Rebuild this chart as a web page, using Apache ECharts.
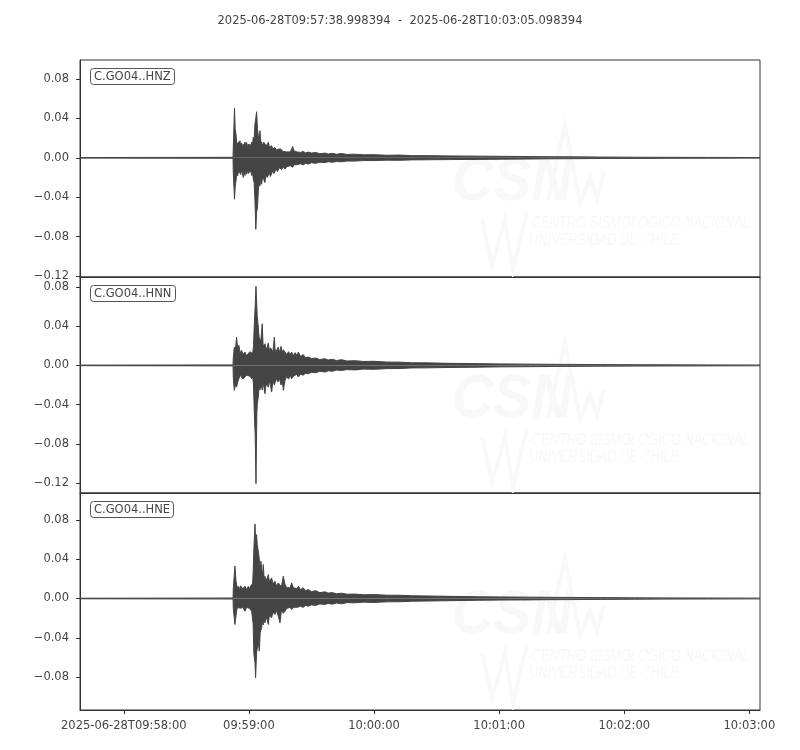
<!DOCTYPE html>
<html>
<head>
<meta charset="utf-8">
<title>GO04 waveform</title>
<script src="https://cdn.jsdelivr.net/npm/echarts@6/dist/echarts.min.js"></script>
<style>
  html, body { margin: 0; padding: 0; background: #fff; }
  #main { width: 800px; height: 750px; }
</style>
</head>
<body>
<div id="main"></div>
<script>
// time in seconds relative to 2025-06-28T09:58:00
const titleText = '2025-06-28T09:57:38.998394  -  2025-06-28T10:03:05.098394';
const tStart = -21.001606;
const tEnd = 305.098394;

const xTickValues = [0, 60, 120, 180, 240, 300];
const xTickLabels = ['2025-06-28T09:58:00', '09:59:00', '10:00:00', '10:01:00', '10:02:00', '10:03:00'];
const yTickValues = [-0.12, -0.08, -0.04, 0, 0.04, 0.08];

const channels = ['C.GO04..HNZ', 'C.GO04..HNN', 'C.GO04..HNE'];
const yMin = [-0.121, -0.1302, -0.1136];
const yMax = [0.0993, 0.0902, 0.1075];

// HNZ envelope (max / min per time bin)
const timeZ = [-21, 52.4, 52.5, 53.1, 53.4, 53.8, 54.2, 54.6, 55.1, 55.7, 56.1, 56.5, 56.9, 57.3, 57.7, 58.1, 58.5, 58.9, 59.3, 59.7, 60.1, 60.5, 60.9, 61.3, 61.7, 62.1, 62.5, 62.9, 63.3, 63.7, 64.1, 64.5, 64.9, 65.3, 65.7, 66.1, 66.6, 67.1, 67.7, 68.2, 68.8, 69.3, 69.8, 70.3, 70.9, 71.5, 72.0, 72.5, 73.1, 73.6, 74.1, 74.7, 75.2, 75.7, 76.4, 77.3, 78.1, 79, 79.8, 80.5, 81.0, 81.6, 82.2, 83.0, 83.7, 84.8, 86, 87.2, 88.5, 90, 92, 94, 96.5, 98, 100, 102, 104.5, 107, 110.9, 115, 120, 126, 132.5, 138, 145, 156.5, 170, 180.5, 195, 204.5, 215, 228.5, 245, 260, 280, 305.1];
const upperZ = [0.0003, 0.0005, 0.010, 0.0506, 0.030, 0.024, 0.014, 0.0156, 0.012, 0.0173, 0.012, 0.015, 0.011, 0.0139, 0.011, 0.016, 0.012, 0.0156, 0.011, 0.014, 0.010, 0.0139, 0.011, 0.016, 0.013, 0.0207, 0.018, 0.0343, 0.040, 0.0468, 0.030, 0.0224, 0.018, 0.0275, 0.017, 0.0173, 0.013, 0.016, 0.0156, 0.012, 0.014, 0.0156, 0.011, 0.013, 0.0122, 0.009, 0.011, 0.0105, 0.008, 0.0095, 0.0088, 0.007, 0.009, 0.0085, 0.0065, 0.0078, 0.006, 0.008, 0.006, 0.0088, 0.0115, 0.007, 0.008, 0.006, 0.0071, 0.0055, 0.0065, 0.005, 0.0058, 0.0048, 0.0055, 0.0042, 0.0048, 0.0038, 0.0046, 0.0036, 0.0044, 0.0034, 0.0037, 0.0030, 0.0032, 0.0026, 0.0028, 0.0022, 0.0022, 0.0019, 0.0017, 0.0015, 0.0013, 0.0011, 0.001, 0.0008, 0.0006, 0.0005, 0.0004, 0.0003];
const lowerZ = [-0.0003, -0.0005, -0.015, -0.042, -0.030, -0.0234, -0.016, -0.0183, -0.013, -0.0149, -0.017, -0.012, -0.016, -0.0200, -0.013, -0.018, -0.012, -0.0166, -0.013, -0.016, -0.012, -0.0149, -0.012, -0.018, -0.014, -0.0217, -0.025, -0.0438, -0.0726, -0.055, -0.0506, -0.0336, -0.025, -0.0285, -0.021, -0.0268, -0.019, -0.022, -0.0251, -0.017, -0.020, -0.0200, -0.015, -0.019, -0.0183, -0.013, -0.016, -0.0149, -0.011, -0.014, -0.0132, -0.010, -0.012, -0.012, -0.009, -0.0115, -0.009, -0.011, -0.008, -0.0098, -0.0095, -0.007, -0.009, -0.007, -0.0081, -0.006, -0.0072, -0.0055, -0.0064, -0.005, -0.0056, -0.0045, -0.0048, -0.004, -0.0045, -0.0038, -0.0040, -0.0033, -0.0033, -0.0028, -0.0028, -0.0024, -0.0025, -0.0021, -0.002, -0.0018, -0.0016, -0.0014, -0.0012, -0.001, -0.0009, -0.0007, -0.0006, -0.0005, -0.0004, -0.0003];

// HNN
const timeN = [-21, 52.4, 52.5, 53.0, 53.5, 54.1, 54.6, 55.2, 55.8, 56.5, 57.2, 58.1, 58.8, 59.7, 60.5, 61.3, 61.8, 62.2, 62.6, 63.0, 63.4, 63.8, 64.0, 64.5, 64.9, 65.3, 65.7, 66.1, 66.4, 66.8, 67.2, 67.7, 68.2, 68.8, 69.3, 69.8, 70.3, 70.9, 71.5, 72.2, 72.5, 73.0, 73.5, 74.1, 74.7, 75.4, 76.0, 76.5, 77.3, 78.2, 79, 79.8, 80.5, 81.3, 82.2, 83.0, 83.7, 84.8, 86, 87.2, 88.5, 90, 92, 94, 96.5, 98, 100, 102, 104.5, 107, 110.9, 115, 120, 126, 132.5, 138, 145, 156.5, 170, 180.5, 195, 204.5, 215, 228.5, 245, 260, 280, 305.1];
const upperN = [0.0003, 0.0005, 0.008, 0.0187, 0.015, 0.0289, 0.0170, 0.0204, 0.013, 0.0153, 0.011, 0.0136, 0.010, 0.0119, 0.014, 0.0136, 0.012, 0.020, 0.0425, 0.060, 0.0806, 0.0595, 0.050, 0.0391, 0.028, 0.030, 0.025, 0.035, 0.0425, 0.020, 0.018, 0.0221, 0.016, 0.019, 0.0228, 0.015, 0.018, 0.020, 0.014, 0.0289, 0.0170, 0.014, 0.016, 0.0187, 0.013, 0.0194, 0.013, 0.016, 0.0153, 0.011, 0.014, 0.011, 0.0136, 0.010, 0.013, 0.010, 0.0136, 0.009, 0.011, 0.008, 0.0085, 0.007, 0.0075, 0.006, 0.0068, 0.0055, 0.0062, 0.005, 0.0058, 0.0045, 0.0048, 0.0040, 0.0042, 0.0034, 0.0033, 0.0027, 0.0026, 0.0021, 0.0018, 0.0015, 0.0013, 0.0011, 0.001, 0.0008, 0.0007, 0.0006, 0.0005, 0.0004];
const lowerN = [-0.0003, -0.0005, -0.012, -0.0255, -0.020, -0.0221, -0.0170, -0.0153, -0.010, -0.0119, -0.014, -0.0136, -0.010, -0.0119, -0.011, -0.0136, -0.011, -0.020, -0.0490, -0.070, -0.1207, -0.0493, -0.040, -0.0323, -0.022, -0.025, -0.020, -0.0221, -0.025, -0.018, -0.022, -0.0289, -0.019, -0.017, -0.0221, -0.016, -0.020, -0.0272, -0.016, -0.020, -0.0187, -0.014, -0.016, -0.0170, -0.013, -0.020, -0.015, -0.0255, -0.0153, -0.011, -0.014, -0.010, -0.0136, -0.011, -0.012, -0.009, -0.0119, -0.009, -0.010, -0.008, -0.0085, -0.007, -0.0075, -0.006, -0.0068, -0.0055, -0.006, -0.0048, -0.0051, -0.0043, -0.0046, -0.0038, -0.0040, -0.0033, -0.0032, -0.0026, -0.0025, -0.0021, -0.0018, -0.0015, -0.0013, -0.0011, -0.001, -0.0008, -0.0007, -0.0006, -0.0005, -0.0004];

// HNE
const timeE = [-21, 52.4, 52.5, 53.3, 53.8, 54.1, 54.5, 54.9, 55.4, 56.0, 56.5, 57.0, 57.6, 58.1, 58.4, 58.9, 59.7, 60.2, 60.8, 61.3, 61.7, 62.0, 62.4, 62.9, 63.2, 63.7, 64.0, 64.5, 65.0, 65.4, 65.8, 66.1, 66.5, 66.9, 67.3, 67.7, 68.2, 68.8, 69.3, 69.8, 70.3, 70.9, 71.5, 72.0, 72.5, 73.1, 73.6, 74.1, 74.9, 75.6, 76.5, 77.3, 78.2, 79, 79.8, 80.5, 81.3, 82.2, 83.0, 83.7, 84.8, 86, 87.2, 88.5, 90, 92, 94, 96.5, 98, 100, 102, 104.5, 107, 110.9, 115, 120, 126, 132.5, 138, 145, 156.5, 170, 180.5, 195, 204.5, 215, 228.5, 245, 260, 280, 305.1];
const upperE = [0.0003, 0.0005, 0.01, 0.0331, 0.018, 0.0142, 0.010, 0.0125, 0.009, 0.013, 0.0142, 0.010, 0.012, 0.0125, 0.012, 0.009, 0.0125, 0.010, 0.012, 0.0142, 0.012, 0.025, 0.0516, 0.0760, 0.060, 0.0651, 0.055, 0.0482, 0.040, 0.030, 0.0380, 0.030, 0.024, 0.0346, 0.020, 0.0227, 0.018, 0.021, 0.0244, 0.017, 0.019, 0.0210, 0.015, 0.017, 0.0176, 0.013, 0.015, 0.0159, 0.016, 0.012, 0.0227, 0.0142, 0.011, 0.013, 0.011, 0.0159, 0.011, 0.012, 0.010, 0.0125, 0.009, 0.011, 0.008, 0.0091, 0.007, 0.008, 0.006, 0.0068, 0.0055, 0.006, 0.0048, 0.0054, 0.0044, 0.0045, 0.0038, 0.0040, 0.0034, 0.0033, 0.0028, 0.0026, 0.0022, 0.0018, 0.0016, 0.0014, 0.0012, 0.0011, 0.0009, 0.0007, 0.0006, 0.0005, 0.0004];
const lowerE = [-0.0003, -0.0005, -0.01, -0.0265, -0.018, -0.0129, -0.009, -0.0095, -0.008, -0.010, -0.0112, -0.009, -0.011, -0.013, -0.0146, -0.009, -0.0095, -0.010, -0.011, -0.0129, -0.012, -0.025, -0.0570, -0.065, -0.0808, -0.055, -0.0570, -0.045, -0.0536, -0.035, -0.035, -0.0299, -0.022, -0.027, -0.021, -0.0248, -0.019, -0.022, -0.0265, -0.017, -0.019, -0.0197, -0.014, -0.016, -0.0163, -0.012, -0.015, -0.018, -0.0248, -0.012, -0.015, -0.0129, -0.010, -0.012, -0.009, -0.0112, -0.009, -0.011, -0.009, -0.0102, -0.008, -0.009, -0.007, -0.0078, -0.0065, -0.007, -0.0055, -0.0061, -0.005, -0.0058, -0.0046, -0.0054, -0.0042, -0.0044, -0.0037, -0.0040, -0.0034, -0.0033, -0.0028, -0.0026, -0.0022, -0.0018, -0.0016, -0.0014, -0.0012, -0.0011, -0.0009, -0.0007, -0.0006, -0.0005, -0.0004];

const traces = [
  { time: timeZ, upper: upperZ, lower: lowerZ },
  { time: timeN, upper: upperN, lower: lowerN },
  { time: timeE, upper: upperE, lower: lowerE }
];

const FONT = 'DejaVu Sans';
const TEXT_COLOR = '#444';
const LINE_COLOR = '#444';
const gridTops = [60, 277, 493];
const gridHeights = [217, 216, 217];

function fmtY(v) {
  if (Math.abs(v) < 1e-9) return '0.00';
  return (v < 0 ? '\u2212' : '') + Math.abs(v).toFixed(2);
}

function fmtX(v) {
  let i = xTickValues.indexOf(Math.round(v));
  return i >= 0 ? xTickLabels[i] : '';
}

// faint CSN watermark behind each panel
function watermark(top) {
  const c = '#f8f8f8';
  return [
    { type: 'text', x: 452, y: top + 92, scaleX: 0.92, z: 0, silent: true,
      style: { text: 'CSN', font: 'italic bold 62px "Liberation Sans"', fill: c } },
    { type: 'polyline', z: 0, silent: true,
      shape: { points: [[548, top + 140], [565, top + 65], [580, top + 143], [590, top + 118], [597, top + 138], [604, top + 112]] },
      style: { stroke: c, lineWidth: 4, fill: null } },
    { type: 'polyline', z: 0, silent: true,
      shape: { points: [[482, top + 160], [492, top + 205], [505, top + 160], [513, top + 210], [527, top + 152]] },
      style: { stroke: c, lineWidth: 4, fill: null } },
    { type: 'text', x: 532, y: top + 156, scaleX: 0.8, z: 0, silent: true,
      style: { text: 'CENTRO SISMOLÓGICO NACIONAL', font: 'italic 16px "Liberation Sans"', fill: c } },
    { type: 'text', x: 529, y: top + 173, scaleX: 0.8, z: 0, silent: true,
      style: { text: 'UNIVERSIDAD DE CHILE', font: 'italic 16px "Liberation Sans"', fill: c } }
  ];
}

const chart = echarts.init(document.getElementById('main'), null, { renderer: 'canvas' });

let grids = [], xAxes = [], yAxes = [], series = [], titles = [], graphics = [];

titles.push({
  text: titleText, left: 'center', top: 15, padding: 0,
  textStyle: { fontFamily: FONT, fontSize: 11.5, fontWeight: 'normal', color: TEXT_COLOR }
});

for (let p = 0; p < 3; p++) {
  const last = p === 2;
  grids.push({
    left: 80, width: 680, top: gridTops[p], height: gridHeights[p],
    show: true, borderColor: '#333', borderWidth: 1, backgroundColor: 'transparent'
  });
  xAxes.push({
    type: 'value', gridIndex: p, min: tStart, max: tEnd,
    axisLine: { show: true, onZero: false, lineStyle: { color: '#333', width: 1 } },
    axisTick: { show: last, customValues: xTickValues, length: 4, lineStyle: { color: '#333' } },
    axisLabel: {
      show: last, customValues: xTickValues, formatter: fmtX, margin: 10,
      fontFamily: FONT, fontSize: 11.5, color: TEXT_COLOR
    },
    splitLine: { show: false }
  });
  yAxes.push({
    type: 'value', gridIndex: p, min: yMin[p], max: yMax[p],
    axisLine: { show: true, onZero: false, lineStyle: { color: '#333', width: 1 } },
    axisTick: { show: true, customValues: yTickValues, length: 4, lineStyle: { color: '#333' } },
    axisLabel: {
      show: true, customValues: yTickValues, formatter: fmtY, margin: 11,
      fontFamily: FONT, fontSize: 11.5, color: TEXT_COLOR
    },
    splitLine: { show: false }
  });

  const tr = traces[p];
  ['upper', 'lower'].forEach(side => {
    series.push({
      type: 'line', xAxisIndex: p, yAxisIndex: p,
      data: tr.time.map((t, i) => [t, tr[side][i]]),
      showSymbol: false, symbol: 'none', silent: true,
      lineStyle: { color: LINE_COLOR, width: 1 },
      areaStyle: { color: LINE_COLOR, opacity: 1, origin: 0 },
      z: 3
    });
  });

  // channel label box
  titles.push({
    text: channels[p], left: 90, top: gridTops[p] + 8,
    padding: [3, 4, 2, 4], borderColor: '#555', borderWidth: 1, borderRadius: 3,
    backgroundColor: '#fff',
    textStyle: { fontFamily: FONT, fontSize: 11.5, fontWeight: 'normal', color: TEXT_COLOR }
  });

  graphics = graphics.concat(watermark(gridTops[p]));
}

chart.setOption({
  animation: false,
  backgroundColor: '#fff',
  title: titles,
  grid: grids,
  xAxis: xAxes,
  yAxis: yAxes,
  series: series,
  graphic: { elements: graphics }
});
</script>
</body>
</html>
